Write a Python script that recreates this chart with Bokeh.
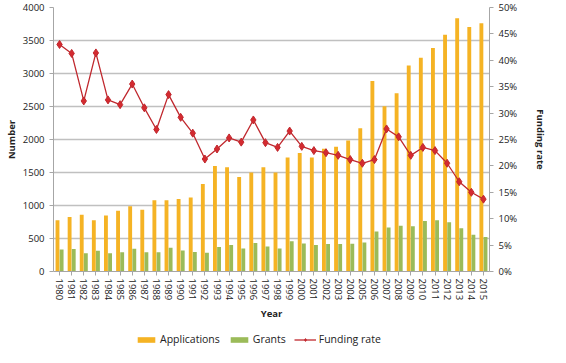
from bokeh.plotting import figure
from bokeh.layouts import column
from bokeh.models import (ColumnDataSource, Range1d, LinearAxis, SingleIntervalTicker,
                          PrintfTickFormatter, Legend, LegendItem, FactorRange)
from bokeh.transform import dodge
from bokeh.embed import file_html
from bokeh.resources import INLINE

years = [str(y) for y in range(1980, 2016)]
applications = [775, 825, 860, 775, 850, 920, 990, 935, 1080, 1080, 1100, 1120,
                1325, 1600, 1580, 1430, 1500, 1580, 1500, 1727, 1797, 1727, 1860, 1890,
                1985, 2172, 2887, 2502, 2702, 3120, 3238, 3388, 3588, 3838, 3703, 3763]
grants = [335, 340, 275, 315, 275, 290, 345, 290, 290, 360, 320, 295,
          285, 370, 400, 350, 430, 380, 350, 460, 425, 400, 415, 415,
          420, 440, 605, 665, 695, 685, 765, 776, 746, 656, 555, 521]
funding_rate = [43.0, 41.3, 32.3, 41.4, 32.5, 31.6, 35.5, 31.0, 26.9, 33.5, 29.2, 26.2,
                21.3, 23.2, 25.3, 24.5, 28.7, 24.4, 23.5, 26.6, 23.7, 22.9, 22.5, 22.0,
                21.2, 20.5, 21.2, 27.0, 25.5, 22.0, 23.5, 22.9, 20.5, 17.0, 15.0, 13.7]
series_names = ["Applications", "Grants", "Funding rate"]

src = ColumnDataSource(dict(year=years, apps=applications, grants=grants, rate=funding_rate))

FONT = "Open Sans"
GRID = "#c0c0c0"
TXT = "#222222"
C_APPS, C_GRANTS, C_LINE, C_MARK = "#F5B324", "#9BBB59", "#C0282E", "#D42A30"

p = figure(x_range=FactorRange(*years), y_range=Range1d(0, 4000),
           width=550, height=324, output_backend="svg", toolbar_location=None,
           min_border_left=53, min_border_right=56, min_border_top=7, min_border_bottom=53)
p.outline_line_color = None
p.xgrid.grid_line_color = None
p.ygrid.grid_line_color = GRID
p.ygrid.grid_line_width = 1.3
p.yaxis.ticker = SingleIntervalTicker(interval=500)

p.extra_y_ranges = {"rate": Range1d(0, 50)}

p.vbar(x=dodge("year", -0.17, range=p.x_range), top="apps", width=0.32,
       source=src, fill_color=C_APPS, line_color=None)
p.vbar(x=dodge("year", 0.17, range=p.x_range), top="grants", width=0.32,
       source=src, fill_color=C_GRANTS, line_color=None)
p.line(x="year", y="rate", source=src, y_range_name="rate", line_color=C_LINE, line_width=1.3)
p.scatter(x="year", y="rate", source=src, y_range_name="rate", marker="diamond",
          size=8, fill_color=C_MARK, line_color=C_LINE)

right = LinearAxis(y_range_name="rate", ticker=SingleIntervalTicker(interval=5),
                   formatter=PrintfTickFormatter(format="%d%%"), axis_label="Funding rate")
p.add_layout(right, "right")

p.yaxis[0].axis_label = "Number"
p.xaxis.axis_label = "Year"
p.xaxis.major_label_orientation = "vertical"

for ax in [p.yaxis[0], right, p.xaxis[0]]:
    ax.axis_line_color = "#a6a6a6"
    ax.major_tick_line_color = "#a6a6a6"
    ax.minor_tick_line_color = None
    ax.major_tick_in = 0
    ax.major_tick_out = 4
    ax.major_label_text_font = FONT
    ax.major_label_text_font_size = "9.5px"
    ax.major_label_text_color = TXT
    ax.axis_label_text_font = FONT
    ax.axis_label_text_font_size = "9.5px"
    ax.axis_label_text_font_style = "bold"
    ax.axis_label_text_color = TXT
p.xaxis.major_label_standoff = 3
p.xaxis.axis_label_standoff = 4
p.yaxis[0].axis_label_standoff = 2
right.major_label_standoff = 5
right.axis_label_standoff = 14

# legend strip (separate small figure; its glyphs sit outside its visible range)
lg = figure(width=550, height=23, output_backend="svg", toolbar_location=None,
            x_range=Range1d(0, 1), y_range=Range1d(0, 1),
            min_border_left=0, min_border_right=0, min_border_top=0, min_border_bottom=0)
lg.axis.visible = False
lg.grid.visible = False
lg.outline_line_color = None
dummy = ColumnDataSource(dict(x=[-5], y=[-5]))
la = lg.vbar(x="x", top="y", width=0.1, source=dummy, fill_color=C_APPS, line_color=None)
lgr = lg.vbar(x="x", top="y", width=0.1, source=dummy, fill_color=C_GRANTS, line_color=None)
ll = lg.line(x="x", y="y", source=dummy, line_color=C_LINE, line_width=1.3)
lm = lg.scatter(x="x", y="y", source=dummy, marker="diamond", size=7,
                fill_color=C_MARK, line_color=C_LINE)
legend = Legend(items=[LegendItem(label=series_names[0], renderers=[la]),
                       LegendItem(label=series_names[1], renderers=[lgr]),
                       LegendItem(label=series_names[2], renderers=[ll, lm])],
                orientation="horizontal", location=(82, 1),
                glyph_width=22, glyph_height=7, label_text_font=FONT,
                label_text_font_size="10.5px", label_text_color=TXT,
                background_fill_alpha=0, border_line_color=None,
                spacing=8, label_standoff=3, padding=2, margin=0)
lg.add_layout(legend, "center")

layout = column(p, lg, spacing=0)
open("out.html", "w").write(file_html(layout, INLINE))
